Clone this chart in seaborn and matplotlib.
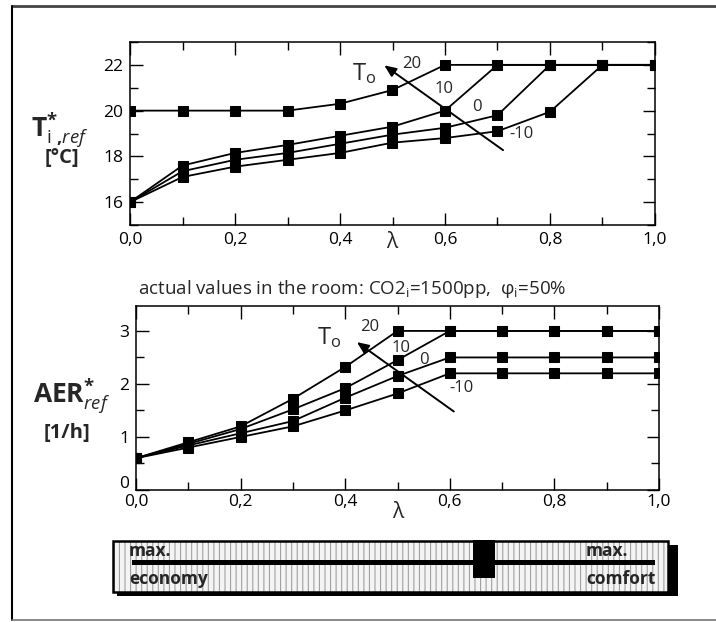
import numpy as np
import pandas as pd
import matplotlib
matplotlib.use("Agg")
import matplotlib.pyplot as plt
import seaborn as sns
from matplotlib.ticker import MultipleLocator, FuncFormatter
from matplotlib.patches import Rectangle
from matplotlib.lines import Line2D
from matplotlib.transforms import ScaledTranslation

# ---------------- data ----------------
lam = [0.0, 0.1, 0.2, 0.3, 0.4, 0.5, 0.6, 0.7, 0.8, 0.9, 1.0]
outdoor_temps = [20, 10, 0, -10]
ti_20 = [20.0, 20.0, 20.0, 20.0, 20.3, 20.9, 22.0, 22.0, 22.0, 22.0, 22.0]
ti_10 = [16.0, 17.6, 18.15, 18.5, 18.9, 19.3, 20.0, 22.0, 22.0, 22.0, 22.0]
ti_0 = [16.0, 17.35, 17.85, 18.15, 18.55, 18.95, 19.25, 19.8, 22.0, 22.0, 22.0]
ti_m10 = [16.0, 17.1, 17.55, 17.85, 18.15, 18.6, 18.8, 19.1, 19.95, 22.0, 22.0]
aer_20 = [0.6, 0.9, 1.2, 1.72, 2.32, 3.0, 3.0, 3.0, 3.0, 3.0, 3.0]
aer_10 = [0.6, 0.87, 1.15, 1.52, 1.92, 2.45, 3.0, 3.0, 3.0, 3.0, 3.0]
aer_0 = [0.6, 0.84, 1.07, 1.3, 1.74, 2.15, 2.5, 2.5, 2.5, 2.5, 2.5]
aer_m10 = [0.6, 0.8, 1.0, 1.2, 1.5, 1.82, 2.2, 2.2, 2.2, 2.2, 2.2]
x_ticks = [0.0, 0.2, 0.4, 0.6, 0.8, 1.0]
ti_ticks = [16, 18, 20, 22]
aer_ticks = [0, 1, 2, 3]
title_text = "actual values in the room: CO2$_{\\mathregular{i}}$=1500pp,  φ$_{\\mathregular{i}}$=50%"

ti_series = {20: ti_20, 10: ti_10, 0: ti_0, -10: ti_m10}
aer_series = {20: aer_20, 10: aer_10, 0: aer_0, -10: aer_m10}

df_ti = pd.DataFrame([(l, t, v) for t in outdoor_temps for l, v in zip(lam, ti_series[t])],
                     columns=["lam", "To", "val"])
df_aer = pd.DataFrame([(l, t, v) for t in outdoor_temps for l, v in zip(lam, aer_series[t])],
                      columns=["lam", "To", "val"])

# ---------------- style ----------------
sns.set_style("ticks")
plt.rcParams["font.family"] = ["Open Sans", "DejaVu Sans"]
plt.rcParams["mathtext.fontset"] = "custom"
plt.rcParams["mathtext.rm"] = "Open Sans"
plt.rcParams["mathtext.it"] = "Open Sans:italic"
plt.rcParams["mathtext.bf"] = "Open Sans:bold"
plt.rcParams["hatch.linewidth"] = 0.8

W, H = 716, 622
fig = plt.figure(figsize=(W / 100, H / 100), dpi=100)


def px_axes(l, t, r, b):
    return fig.add_axes([l / W, 1 - b / H, (r - l) / W, (b - t) / H])


comma = FuncFormatter(lambda v, p: f"{v:.1f}".replace(".", ","))
pal = {t: "black" for t in outdoor_temps}


def style_axes(ax, xmin, xmax, ymin, ymax, yticks, yminor):
    ax.set_xlim(xmin, xmax)
    ax.set_ylim(ymin, ymax)
    ax.set_xticks(x_ticks)
    ax.xaxis.set_major_formatter(comma)
    ax.xaxis.set_minor_locator(MultipleLocator(0.1))
    ax.set_yticks(yticks)
    ax.yaxis.set_minor_locator(MultipleLocator(yminor))
    ax.tick_params(which="both", direction="in", top=True, right=True,
                   labelsize=12.5, colors="black", width=1.0)
    ax.tick_params(which="major", length=9, pad=5)
    ax.tick_params(which="minor", length=6)
    for s in ax.spines.values():
        s.set_linewidth(1.1)
        s.set_color("black")
    ax.set_xlabel("")
    ax.set_ylabel("")
    leg = ax.get_legend()
    if leg:
        leg.remove()


# ---------------- top chart ----------------
ax1 = px_axes(130, 42, 655, 225)
sns.lineplot(data=df_ti, x="lam", y="val", hue="To", palette=pal, marker="s",
             markersize=6.5, markeredgecolor="black", linewidth=1.3, ax=ax1,
             legend=False, estimator=None, sort=False)
style_axes(ax1, 0, 1.0, 15, 23, ti_ticks, 1)
ax1.annotate("", xy=(0.48, 22.05), xytext=(0.715, 18.2),
             arrowprops=dict(arrowstyle="-|>,head_length=0.7,head_width=0.3",
                             color="black", lw=1.4))
ax1.text(0.445, 21.6, "T$_{\\mathregular{o}}$", fontsize=17, ha="center", va="center")
ax1.text(0.537, 22.05, "20", fontsize=12, ha="center", va="center")
ax1.text(0.598, 20.95, "10", fontsize=12, ha="center", va="center")
ax1.text(0.66, 20.15, "0", fontsize=12, ha="center", va="center")
ax1.text(0.745, 19.0, "-10", fontsize=12, ha="center", va="center")
fig.text(392 / W, 1 - 243 / H, "λ", fontsize=15, ha="center", va="center")

# ---------------- bottom chart ----------------
ax2 = px_axes(136, 306, 659, 490)
sns.lineplot(data=df_aer, x="lam", y="val", hue="To", palette=pal, marker="s",
             markersize=6.5, markeredgecolor="black", linewidth=1.3, ax=ax2,
             legend=False, estimator=None, sort=False)
style_axes(ax2, 0, 1.0, 0, 3.47, aer_ticks, 0.5)
ax2.tick_params(axis="x", which="major", pad=3)
ax2.annotate("", xy=(0.418, 2.82), xytext=(0.612, 1.45),
             arrowprops=dict(arrowstyle="-|>,head_length=0.7,head_width=0.3",
                             color="black", lw=1.4))
ax2.text(0.37, 2.88, "T$_{\\mathregular{o}}$", fontsize=17, ha="center", va="center")
ax2.text(0.447, 3.07, "20", fontsize=12, ha="center", va="center")
ax2.text(0.506, 2.68, "10", fontsize=12, ha="center", va="center")
ax2.text(0.55, 2.45, "0", fontsize=12, ha="center", va="center")
ax2.text(0.622, 1.93, "-10", fontsize=12, ha="center", va="center")
fig.text(398 / W, 1 - 512 / H, "λ", fontsize=15, ha="center", va="center")
fig.text(352 / W, 1 - 289 / H, title_text, fontsize=13.5, ha="center", va="center")

# nudge the "0" y tick label up so it sits above the "0,0" x label
fig.canvas.draw()
for lbl in ax2.get_yticklabels():
    if lbl.get_text() == "0":
        lbl.set_transform(lbl.get_transform() + ScaledTranslation(0, 6 / 100, fig.dpi_scale_trans))
        lbl.set_va("center")

# y labels
fig.text(60 / W, 1 - 130 / H, "$\\mathbf{T}^{\\mathbf{*}}_{\\mathregular{i}\\ \\mathbf{,}\\mathbf{\\mathit{ref}}}$",
         fontsize=19, ha="center", va="center")
fig.text(62 / W, 1 - 158 / H, "[°C]", fontsize=14.5, fontweight="bold", ha="center", va="center")
fig.text(72 / W, 1 - 396 / H, "$\\mathbf{AER}^{\\mathbf{*}}_{\\mathit{ref}}$",
         fontsize=19, ha="center", va="center")
fig.text(67 / W, 1 - 433 / H, "[1/h]", fontsize=14.5, fontweight="bold", ha="center", va="center")

# ---------------- slider ----------------
fax = fig.add_axes([0, 0, 1, 1], zorder=-1)
fax.set_xlim(0, W)
fax.set_ylim(H, 0)
fax.axis("off")
fax.add_patch(Rectangle((117, 545), 561, 51, facecolor="black", edgecolor="none"))
fax.add_patch(Rectangle((113, 541), 555, 51, facecolor="#f4f4f4", edgecolor="none"))
fax.add_patch(Rectangle((113, 541), 555, 51, facecolor="none", edgecolor="#a0a0a0",
                        hatch="|||", linewidth=0))
fax.add_patch(Rectangle((113, 541), 555, 51, facecolor="none", edgecolor="black", linewidth=1.8))
fax.add_patch(Rectangle((132, 560), 523, 5, facecolor="black", edgecolor="none"))
fax.add_patch(Rectangle((473, 540), 22, 38, facecolor="black", edgecolor="none"))
fax.text(129, 551, "max.", fontsize=12.5, fontweight="bold", ha="left", va="center")
fax.text(129, 579, "economy", fontsize=12.5, fontweight="bold", ha="left", va="center")
fax.text(628, 551, "max.", fontsize=12.5, fontweight="bold", ha="right", va="center")
fax.text(656, 579, "comfort", fontsize=12.5, fontweight="bold", ha="right", va="center")

# outer frame
fax.add_line(Line2D([12, 716], [6, 6], color="#444444", lw=2))
fax.add_line(Line2D([12, 12], [6, 620], color="black", lw=1.5))
fax.add_line(Line2D([12, 716], [620, 620], color="#777777", lw=1.2))

fig.savefig("out.png", dpi=100, facecolor="white")
